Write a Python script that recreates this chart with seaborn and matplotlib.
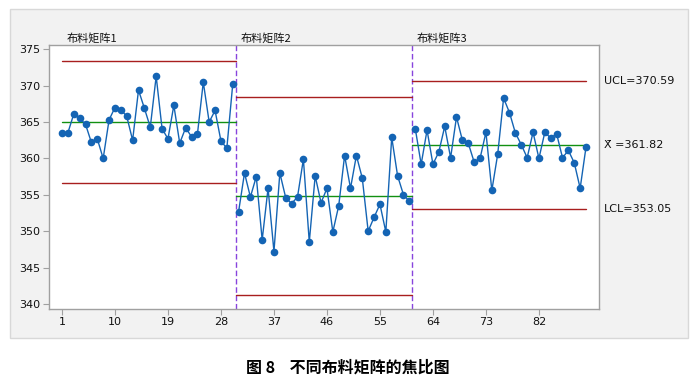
import numpy as np
import pandas as pd
import seaborn as sns
import matplotlib.pyplot as plt
from matplotlib.patches import Rectangle

# Data
stage1 = [363.5, 363.5, 366.1, 365.5, 364.7, 362.2, 362.7, 360.0, 365.3, 367.0,
          366.7, 365.8, 362.5, 369.4, 366.9, 364.3, 371.3, 364.1, 362.7, 367.3,
          362.1, 364.2, 363.0, 363.3, 370.5, 365.0, 366.6, 362.4, 361.4, 370.2]
stage2 = [352.7, 358.0, 354.7, 357.5, 348.8, 355.9, 347.2, 358.0, 354.6, 353.8,
          354.7, 359.9, 348.5, 357.6, 353.9, 355.9, 349.9, 353.5, 360.4, 355.9,
          360.4, 357.3, 350.0, 351.9, 353.7, 349.9, 362.9, 357.6, 355.0, 354.1]
stage3 = [364.1, 359.2, 363.9, 359.2, 360.9, 364.4, 360.1, 365.7, 362.5, 362.1,
          359.5, 360.0, 363.6, 355.6, 360.6, 368.3, 366.3, 363.5, 361.9, 360.1,
          363.6, 360.0, 363.6, 362.8, 363.4, 360.1, 361.1, 359.4, 355.9, 361.6]
stage_names = ["布料矩阵1", "布料矩阵2", "布料矩阵3"]
center = [365.0, 354.8, 361.82]
ucl = [373.35, 368.4, 370.59]
lcl = [356.6, 341.2, 353.05]
xticks = [1, 10, 19, 28, 37, 46, 55, 64, 73, 82]
yticks = [340, 345, 350, 355, 360, 365, 370, 375]

values = stage1 + stage2 + stage3
df = pd.DataFrame({
    "obs": np.arange(1, len(values) + 1),
    "value": values,
    "stage": [stage_names[0]] * 30 + [stage_names[1]] * 30 + [stage_names[2]] * 30,
})

sns.set_style("white")
plt.rcParams["font.family"] = ["DejaVu Sans", "Noto Sans CJK SC"]
plt.rcParams["text.color"] = "#111111"
plt.rcParams["xtick.labelcolor"] = "#111111"
plt.rcParams["ytick.labelcolor"] = "#111111"

fig = plt.figure(figsize=(6.95, 3.78), dpi=100)
W, H = 695, 378

# gray panel behind the chart
fig.patches.append(Rectangle((10 / W, 1 - 338 / H), 678 / W, 329 / H,
                             transform=fig.transFigure, facecolor="#F2F2F2",
                             edgecolor="#D8D8D8", linewidth=1, zorder=-5))

ax = fig.add_axes([49 / W, 1 - 309 / H, 550 / W, 264 / H])
ax.set_zorder(2)

blue = "#1464B4"
sns.lineplot(data=df, x="obs", y="value", hue="stage",
             palette=[blue, blue, blue], marker="o", markersize=5.5,
             markeredgewidth=0, linewidth=1, estimator=None,
             legend=False, ax=ax, zorder=3)

red = "#A81E1E"
green = "#129012"
bounds = [1, 30.5, 60.5, 90]
for i in range(3):
    x0, x1 = bounds[i], bounds[i + 1]
    ax.plot([x0, x1], [ucl[i], ucl[i]], color=red, lw=1, zorder=2)
    ax.plot([x0, x1], [lcl[i], lcl[i]], color=red, lw=1, zorder=2)
    ax.plot([x0, x1], [center[i], center[i]], color=green, lw=1, zorder=2)

for b in [30.5, 60.5]:
    ax.axvline(b, color="#8844DD", lw=1, ls=(0, (4, 2)), zorder=1)

label_x = [1.8, 31.3, 61.3]
for x, name in zip(label_x, stage_names):
    ax.text(x, 375.75, name, fontsize=8, family=["Noto Sans CJK SC", "DejaVu Sans"],
            ha="left", va="bottom")

ax.text(93.0, ucl[2], "UCL=370.59", fontsize=8, va="center", ha="left", clip_on=False)
ax.text(93.0, center[2], "X\u0304 =361.82", fontsize=8, va="center", ha="left", clip_on=False)
ax.text(93.0, lcl[2], "LCL=353.05", fontsize=8, va="center", ha="left", clip_on=False)

ax.set_xlim(-1.2, 92.2)
ax.set_ylim(339.3, 375.6)
ax.set_xticks(xticks)
ax.set_yticks(yticks)
ax.set_xlabel("")
ax.set_ylabel("")
ax.tick_params(axis="both", direction="out", length=4, width=0.8,
               color="#A0A0A0", labelsize=8, pad=2, left=True, bottom=True)
for s in ax.spines.values():
    s.set_color("#A0A0A0")
    s.set_linewidth(1)
ax.set_facecolor("white")

fig.text(0.5, 1 - 368 / H, "图 8    不同布料矩阵的焦比图", ha="center", va="center",
         fontsize=11.5, fontweight="bold", color="black",
         family=["Noto Sans CJK SC", "DejaVu Sans"])

fig.savefig("out.png", dpi=100, facecolor="white")
